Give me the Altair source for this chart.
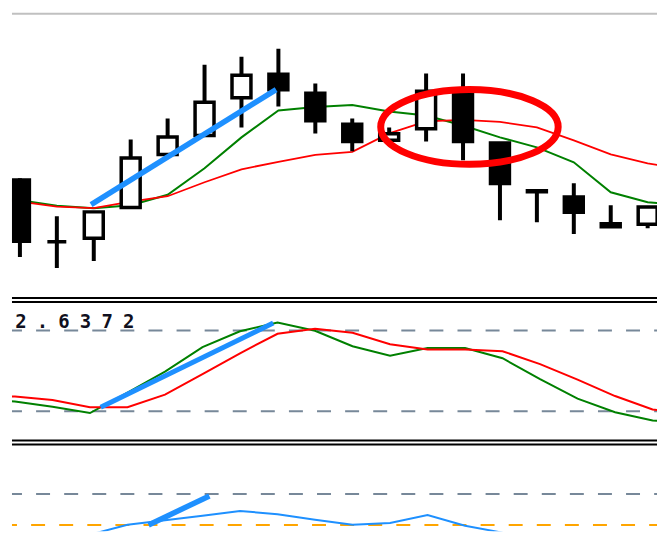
import altair as alt
import pandas as pd

# ---------------- data ----------------
# candle index on the time axis
bar_idx = list(range(18))
opens = [1.31203, 1.30583, 1.30618, 1.30928, 1.31458, 1.31648, 1.32028, 1.32263, 1.32073,
         1.31763, 1.31601, 1.31718, 1.32113, 1.31573, 1.31095, 1.31033, 1.30765, 1.30758]
highs = [1.31220, 1.30840, 1.30883, 1.31610, 1.31820, 1.32360, 1.32440, 1.32520, 1.32170,
         1.31820, 1.31730, 1.32270, 1.32270, 1.31573, 1.31095, 1.31170, 1.30950, 1.30933]
lows = [1.30430, 1.30320, 1.30390, 1.30928, 1.31458, 1.31648, 1.31730, 1.31940, 1.31670,
        1.31490, 1.31580, 1.31590, 1.31400, 1.30800, 1.30780, 1.30660, 1.30735, 1.30720]
closes = [1.30588, 1.30583, 1.30883, 1.31423, 1.31633, 1.31983, 1.32253, 1.32108, 1.31798,
          1.31588, 1.31666, 1.32093, 1.31588, 1.31168, 1.31085, 1.30878, 1.30735, 1.30933]

# indicator samples (one bar before and one after the visible candles)
ind_idx = list(range(-1, 19))
ma_fast = [1.3104, 1.3100, 1.30945, 1.3092, 1.3095, 1.31055, 1.3132, 1.3163, 1.3190, 1.31935,
           1.31955, 1.3189, 1.3185, 1.3175, 1.3163, 1.3153, 1.3138, 1.3108, 1.3098, 1.3095]
ma_slow = [1.3102, 1.30985, 1.30935, 1.3092, 1.30985, 1.3104, 1.3118, 1.3131, 1.31385, 1.31455,
           1.31485, 1.3167, 1.3179, 1.31805, 1.31785, 1.3173, 1.3160, 1.3146, 1.3137, 1.3131]

stoch_main = [29.4, 27.2, 23.3, 18.7, 33.9, 49.4, 67.6, 79.4, 85.9, 79.8,
              68.3, 61.3, 67.0, 67.0, 59.4, 43.9, 29.4, 19.3, 13.1, 12.0]
stoch_signal = [32.4, 30.9, 28.3, 23.0, 23.0, 32.4, 47.6, 63.1, 77.6, 81.3,
                78.3, 69.8, 65.9, 65.9, 64.6, 55.0, 43.5, 31.3, 21.3, 18.3]
stoch_levels = [80, 20]
stoch_label = "2.6372"

osc_values = [-23.5, -19.6, -14.3, -9.5, 0.2, 4.5, 8.9, 13.6, 10.4, 5.0,
              0.2, 1.9, 9.7, -0.8, -7.5, -9.3, -12.4, -14.8, -9.5, -8.0]
osc_upper_level = [30]
osc_zero_level = [0]

# hand-drawn annotations (bar index, value)
trend_price_idx = [1.927, 6.938]
trend_price_val = [1.30955, 1.32110]
trend_stoch_idx = [2.286, 6.885]
trend_stoch_val = [23.0, 85.5]
trend_osc_idx = [3.562, 5.183]
trend_osc_val = [0.0, 28.1]
ellipse_idx = [12.174]
ellipse_val = [1.31735]

# ---------------- layout ----------------
W = 647
H_TOP, H_MID, H_BOT = 288, 144, 92
BLUE = "#1e90ff"

X = alt.X("i:Q", scale=alt.Scale(domain=[-0.0797, 17.118], nice=False, zero=False), axis=None)
price_scale = alt.Scale(domain=[1.3004, 1.3292], nice=False, zero=False)
stoch_scale = alt.Scale(domain=[-0.96, 105.70], nice=False, zero=False)
osc_scale = alt.Scale(domain=[-6.10, 82.96], nice=False, zero=False)

one = pd.DataFrame({"k": [0]})

candles = pd.DataFrame({"i": bar_idx, "o": opens, "h": highs, "l": lows, "c": closes})
candles["dir"] = ["bull" if c > o else "bear" for o, c in zip(opens, closes)]
ind = pd.DataFrame({"i": ind_idx, "fast": ma_fast, "slow": ma_slow,
                    "k": stoch_main, "d": stoch_signal, "osc": osc_values})


def hrule(y, color="black", width=2):
    return alt.Chart(one).mark_rule(color=color, strokeWidth=width).encode(
        x=alt.value(0), x2=alt.value(W), y=alt.value(y))


# ---- main price panel ----
top_line = hrule(5, "#c0c0c0", 2)
fast = alt.Chart(ind).mark_line(color="#008000", strokeWidth=2, clip=True).encode(
    x=X, y=alt.Y("fast:Q", scale=price_scale, axis=None))
slow = alt.Chart(ind).mark_line(color="#ff0000", strokeWidth=1.8, clip=True).encode(
    x=X, y=alt.Y("slow:Q", scale=price_scale, axis=None))
wicks = alt.Chart(candles).mark_rule(color="black", strokeWidth=4, clip=True).encode(
    x=X, y=alt.Y("h:Q", scale=price_scale, axis=None), y2="l:Q")
bodies = alt.Chart(candles).mark_bar(size=19, stroke="black", strokeWidth=3.5, clip=True).encode(
    x=X, y=alt.Y("o:Q", scale=price_scale, axis=None), y2="c:Q",
    fill=alt.Fill("dir:N", scale=alt.Scale(domain=["bull", "bear"], range=["white", "black"]),
                  legend=None))
trend1 = alt.Chart(pd.DataFrame({"i": trend_price_idx, "v": trend_price_val})).mark_line(
    color=BLUE, strokeWidth=5.5, strokeCap="butt", clip=True).encode(
    x=X, y=alt.Y("v:Q", scale=price_scale, axis=None))
ELLIPSE = "M-1,0A1,0.421,0,1,1,1,0A1,0.421,0,1,1,-1,0Z"
ellipse = alt.Chart(pd.DataFrame({"i": ellipse_idx, "v": ellipse_val})).mark_point(
    shape=ELLIPSE, size=31684, filled=False, color="#ff0000", strokeWidth=7, opacity=1,
    clip=True).encode(x=X, y=alt.Y("v:Q", scale=price_scale, axis=None))

panel_top = alt.layer(top_line, fast, slow, wicks, bodies, trend1, ellipse).properties(
    width=W, height=H_TOP)

# ---- stochastic panel ----
sep_b1 = hrule(2)
sep_b2 = hrule(6)
label_df = pd.DataFrame({"ch": list(stoch_label), "slot": list(range(len(stoch_label)))})
label = alt.Chart(label_df).mark_text(
    align="center", baseline="alphabetic", font="DejaVu Sans Mono", fontSize=19,
    fontWeight="bold", color="#101020").encode(
    x=alt.X("slot:Q", scale=alt.Scale(domain=[0, 5], range=[9, 117], nice=False, zero=False),
            axis=None),
    y=alt.value(32), text="ch:N")
lv_b = alt.Chart(pd.DataFrame({"v": stoch_levels})).mark_rule(
    color="#778899", strokeWidth=2, strokeDash=[14, 14.18], strokeDashOffset=4).encode(
    x=alt.value(0), x2=alt.value(W), y=alt.Y("v:Q", scale=stoch_scale, axis=None))
k_line = alt.Chart(ind).mark_line(color="#008000", strokeWidth=2, clip=True).encode(
    x=X, y=alt.Y("k:Q", scale=stoch_scale, axis=None))
d_line = alt.Chart(ind).mark_line(color="#ff0000", strokeWidth=2, clip=True).encode(
    x=X, y=alt.Y("d:Q", scale=stoch_scale, axis=None))
trend2 = alt.Chart(pd.DataFrame({"i": trend_stoch_idx, "v": trend_stoch_val})).mark_line(
    color=BLUE, strokeWidth=5, strokeCap="butt", clip=True).encode(
    x=X, y=alt.Y("v:Q", scale=stoch_scale, axis=None))

panel_mid = alt.layer(sep_b1, sep_b2, lv_b, k_line, d_line, trend2, label).resolve_scale(
    x="independent").properties(width=W, height=H_MID)

# ---- bottom oscillator panel ----
sep_c1 = hrule(1)
sep_c2 = hrule(5)
lv_c1 = alt.Chart(pd.DataFrame({"v": osc_upper_level})).mark_rule(
    color="#778899", strokeWidth=2, strokeDash=[14, 14.18], strokeDashOffset=4).encode(
    x=alt.value(0), x2=alt.value(W), y=alt.Y("v:Q", scale=osc_scale, axis=None))
lv_c2 = alt.Chart(pd.DataFrame({"v": osc_zero_level})).mark_rule(
    color="#ffa500", strokeWidth=2, strokeDash=[14, 14.18], strokeDashOffset=9).encode(
    x=alt.value(0), x2=alt.value(W), y=alt.Y("v:Q", scale=osc_scale, axis=None))
osc_line = alt.Chart(ind).mark_line(color=BLUE, strokeWidth=2, clip=True).encode(
    x=X, y=alt.Y("osc:Q", scale=osc_scale, axis=None))
trend3 = alt.Chart(pd.DataFrame({"i": trend_osc_idx, "v": trend_osc_val})).mark_line(
    color=BLUE, strokeWidth=5.5, strokeCap="butt", clip=True).encode(
    x=X, y=alt.Y("v:Q", scale=osc_scale, axis=None))

panel_bot = alt.layer(sep_c1, sep_c2, lv_c1, lv_c2, osc_line, trend3).properties(
    width=W, height=H_BOT)

chart = alt.vconcat(panel_top, panel_mid, panel_bot, spacing=0, bounds="flush").properties(
    padding={"left": 3, "top": 0, "right": 0, "bottom": 0},
    background="white",
).configure_view(stroke=None)

chart.save("out.html", embed_options={"renderer": "svg", "actions": False})
